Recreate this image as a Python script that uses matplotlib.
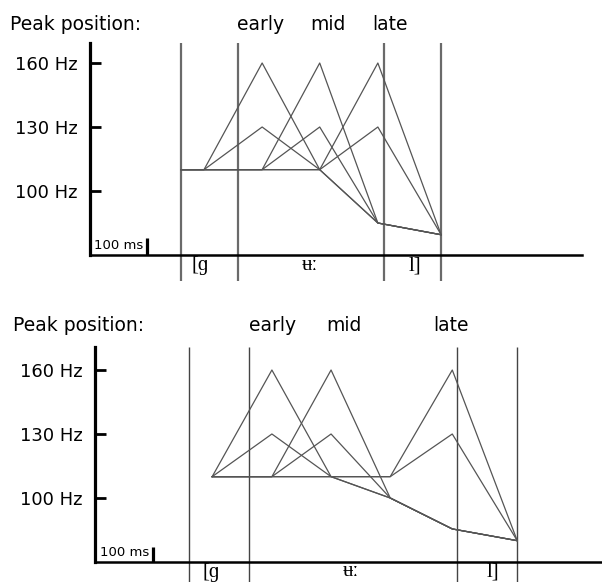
import matplotlib
matplotlib.use('Agg')
import matplotlib.pyplot as plt

W, H = 602, 582
HZ_PX = 64 / 30          # pixels per Hz on both panels

freq_ticks = [100, 130, 160]
peak_heights = [160, 130]
peak_names = ['early', 'mid', 'late']
segments = ['[ɡ', 'ʉː', 'l]']

# top panel (times in ms, f0 in Hz)
top_bounds = [160, 260, 516, 616]
top_early_t = [160, 200, 302, 403, 505, 616]
top_early_f = [110, 110, None, 110, 85, 79.5]
top_mid_t = [160, 302, 403, 505, 616]
top_mid_f = [110, 110, None, 85, 79.5]
top_late_t = [160, 403, 505, 616]
top_late_f = [110, 110, None, 79.5]
top_name_x = [300, 418, 526]
top_seg_x = [193, 386, 570]

# bottom panel
bot_bounds = [162, 266, 624, 728]
bot_early_t = [202, 305, 407, 509, 616, 728]
bot_early_f = [110, None, 110, 100, 85.5, 80]
bot_mid_t = [202, 305, 407, 509, 616, 728]
bot_mid_f = [110, 110, None, 100, 85.5, 80]
bot_late_t = [202, 509, 616, 728]
bot_late_f = [110, 110, None, 80]
bot_name_x = [307, 429, 614]
bot_seg_x = [200, 441, 686]


def add_panel(fig, left, right, top, bottom, ms_px):
    ax = fig.add_axes([left / W, 1 - bottom / H, (right - left) / W, (bottom - top) / H])
    ax.set_xlim(0, (right - left) / ms_px)
    ax.set_ylim(70, 70 + (bottom - top) / HZ_PX)
    for s in ['top', 'right']:
        ax.spines[s].set_visible(False)
    ax.spines['left'].set_linewidth(2.3)
    ax.spines['bottom'].set_linewidth(1.8)
    ax.set_xticks([])
    ax.set_yticks(freq_ticks)
    ax.set_yticklabels([f'{v} Hz' for v in freq_ticks])
    ax.tick_params(axis='y', direction='in', length=8, width=2, pad=9, labelsize=13)
    ax.patch.set_visible(False)
    return ax


def draw_panel(ax, bounds, contours, bound_style, name_x, seg_x, head_y, seg_y, seg_va, bar_h):
    ax.vlines(bounds, 58, ax.get_ylim()[1], clip_on=False, **bound_style)
    for t, f in contours:
        for p in peak_heights:
            ax.plot(t, [p if v is None else v for v in f], color='#555555', lw=0.9, clip_on=False)
    # scale bar
    ax.vlines(100, 70, 70 + bar_h, color='black', lw=2.3)
    ax.annotate('100 ms', xy=(100, 70), xytext=(-2.5, 2.5), textcoords='offset points',
                ha='right', va='bottom', fontsize=9.5)
    for x, name in zip(name_x, peak_names):
        ax.text(x, head_y, name, ha='center', va='baseline', fontsize=13.5)
    for x, s in zip(seg_x, segments):
        ax.text(x, seg_y, s, ha='center', va=seg_va, fontsize=15,
                family=['Liberation Serif', 'DejaVu Serif'])


fig = plt.figure(figsize=(W / 100, H / 100), dpi=100)

ax1 = add_panel(fig, 90, 582, 43, 255, 0.57)
draw_panel(ax1, top_bounds,
           [(top_early_t, top_early_f), (top_mid_t, top_mid_f), (top_late_t, top_late_f)],
           dict(color='#6a6a6a', lw=1.6), top_name_x, top_seg_x,
           70 + (255 - 30) / HZ_PX, 70 - 1 / HZ_PX, 'top', 17 / HZ_PX)

ax2 = add_panel(fig, 95, 602, 347, 562, 0.58)
draw_panel(ax2, bot_bounds,
           [(bot_early_t, bot_early_f), (bot_mid_t, bot_mid_f), (bot_late_t, bot_late_f)],
           dict(color='#444444', lw=1.0), bot_name_x, bot_seg_x,
           70 + (562 - 331) / HZ_PX, 70 - 19.5 / HZ_PX, 'bottom', 15 / HZ_PX)

fig.text(10 / W, 1 - 30 / H, 'Peak position:', va='baseline', fontsize=13.5)
fig.text(13 / W, 1 - 331 / H, 'Peak position:', va='baseline', fontsize=13.5)

fig.savefig('out.png', dpi=100)
